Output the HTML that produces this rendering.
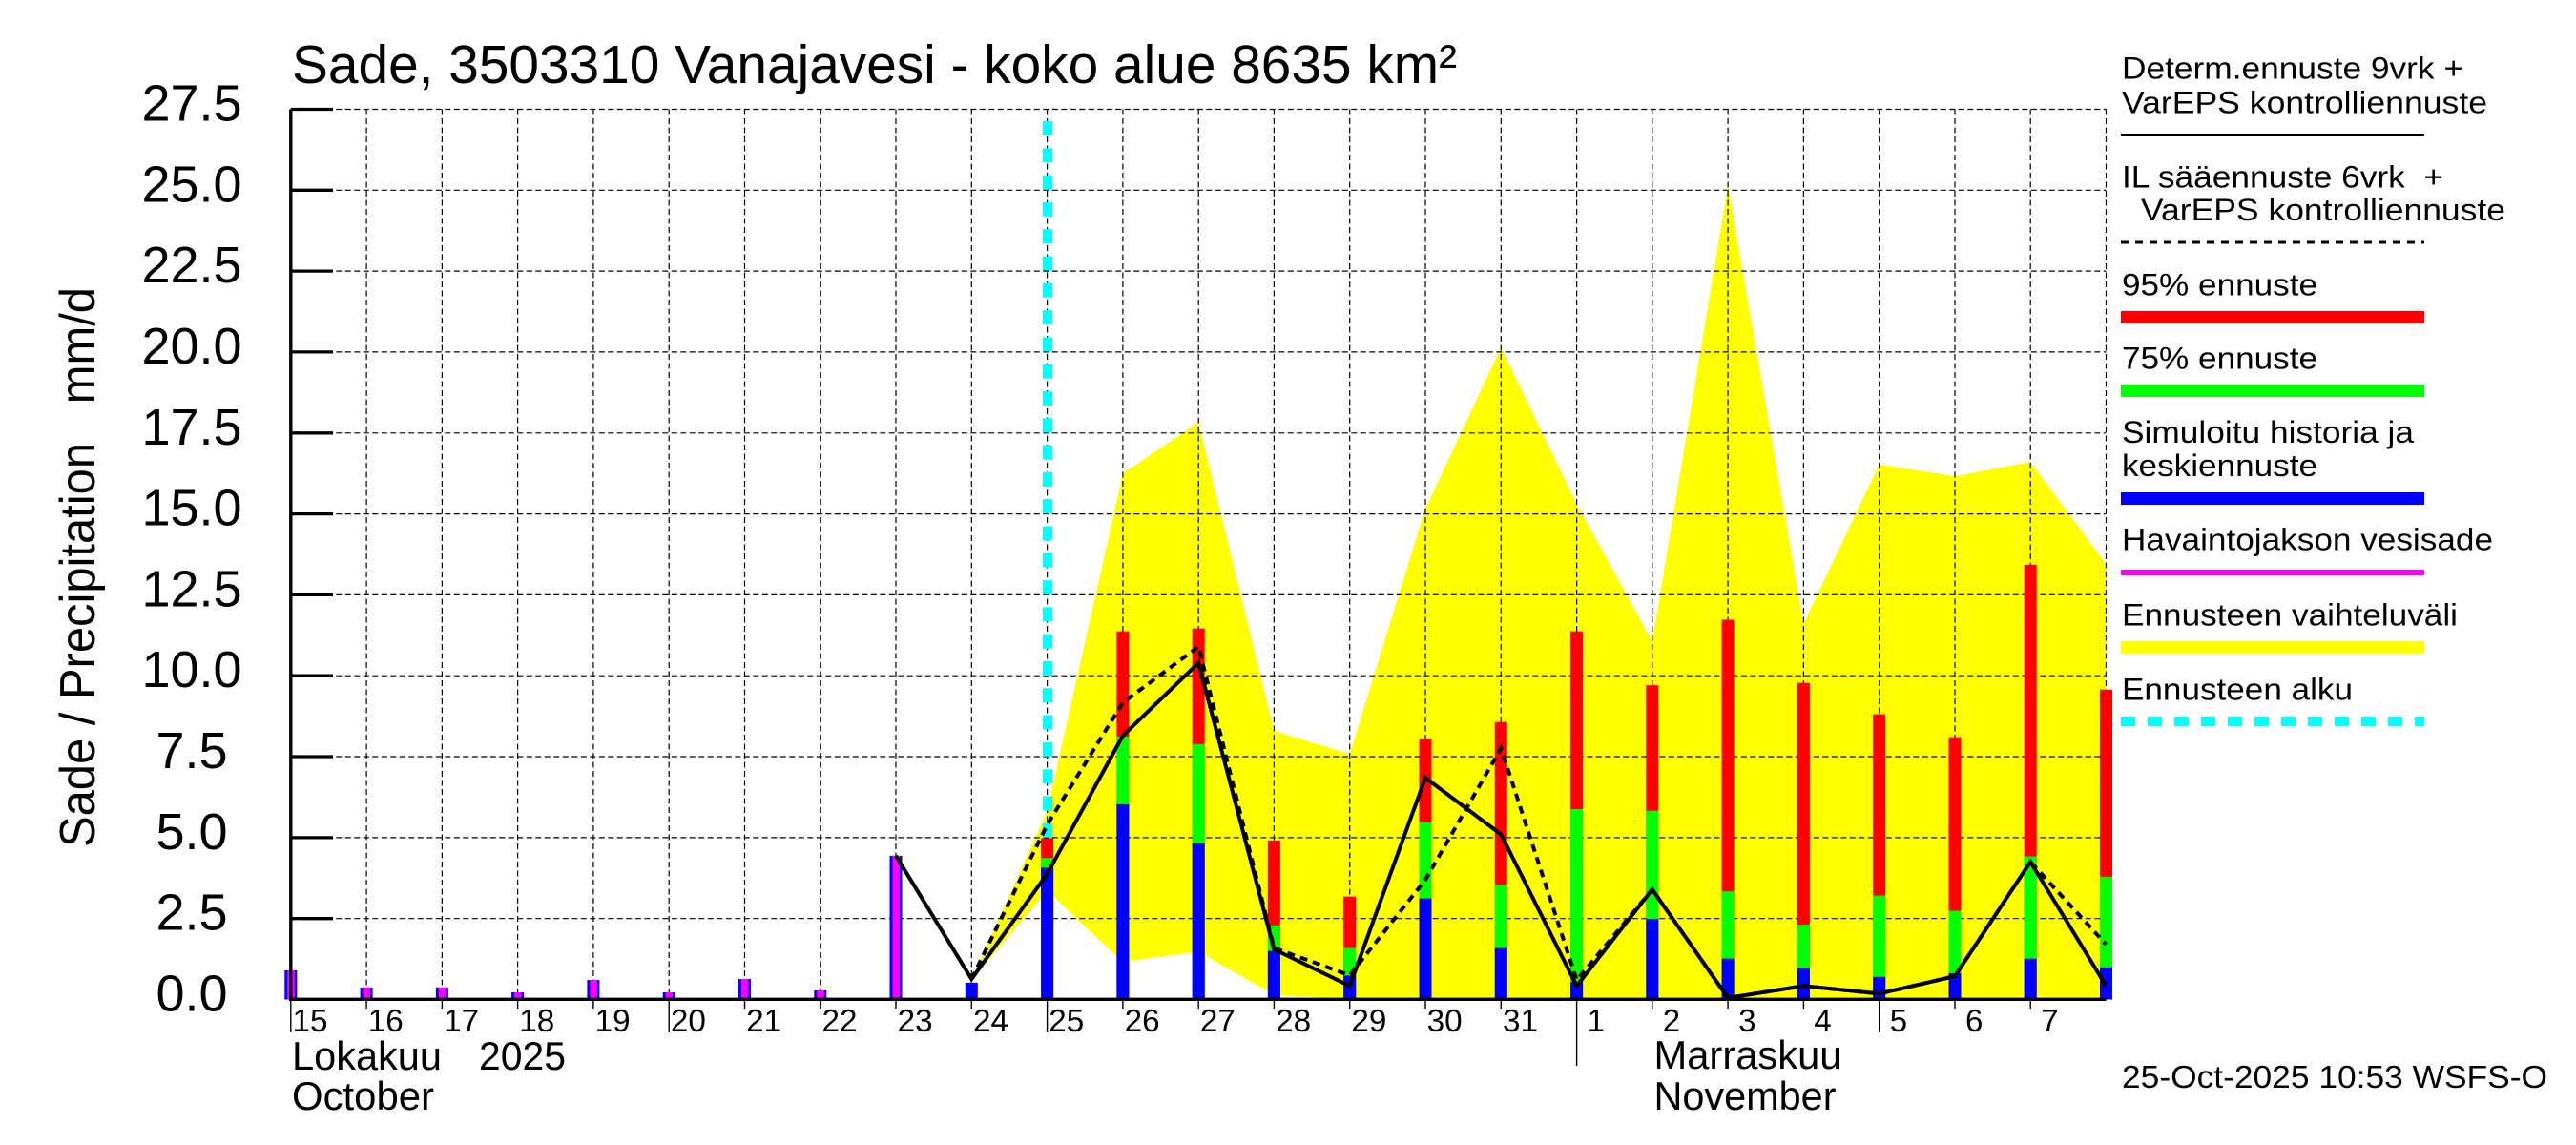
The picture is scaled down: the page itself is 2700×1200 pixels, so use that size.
<!DOCTYPE html>
<html><head><meta charset="utf-8"><style>
html,body{margin:0;padding:0;background:#fff;}
svg{display:block;}
text{font-family:"Liberation Sans",Arial,sans-serif;fill:#000;white-space:pre;}
</style></head><body>
<svg width="2700" height="1200" viewBox="0 0 2700 1200" xmlns="http://www.w3.org/2000/svg">
<rect width="2700" height="1200" fill="#fff"/>

<!-- yellow envelope -->
<polygon fill="#ffff00" points="1018.3,1027.1 1097.6,849.7 1176.9,496.2 1256.2,442.6 1335.4,765.9 1414.7,790.3 1494.0,533.2 1573.3,364.2 1652.6,528.1 1731.8,672.3 1811.1,194.6 1890.4,653.6 1969.7,486.7 2049.0,499.2 2128.2,484.0 2207.5,591.2 2207.5,1047.5 1414.7,1047.5 1335.4,1042.7 1256.2,997.3 1176.9,1008.1 1097.6,933.5"/>

<!-- grid -->
<g stroke="#000" stroke-width="1.2" stroke-dasharray="6 3.5" fill="none">
<path d="M304.8,962.7H2207.5M304.8,877.9H2207.5M304.8,793.0H2207.5M304.8,708.2H2207.5M304.8,623.4H2207.5M304.8,538.6H2207.5M304.8,453.8H2207.5M304.8,368.9H2207.5M304.8,284.1H2207.5M304.8,199.3H2207.5M304.8,114.5H2207.5"/>
<path d="M384.1,114.5V1047.5M463.4,114.5V1047.5M542.6,114.5V1047.5M621.9,114.5V1047.5M701.2,114.5V1047.5M780.5,114.5V1047.5M859.8,114.5V1047.5M939.0,114.5V1047.5M1018.3,114.5V1047.5M1097.6,114.5V1047.5M1176.9,114.5V1047.5M1256.2,114.5V1047.5M1335.4,114.5V1047.5M1414.7,114.5V1047.5M1494.0,114.5V1047.5M1573.3,114.5V1047.5M1652.6,114.5V1047.5M1731.8,114.5V1047.5M1811.1,114.5V1047.5M1890.4,114.5V1047.5M1969.7,114.5V1047.5M2049.0,114.5V1047.5M2128.2,114.5V1047.5M2207.5,114.5V1047.5"/>
</g>

<!-- forecast start (cyan) -->
<line x1="1098" y1="127" x2="1098" y2="1047.5" stroke="#00ffff" stroke-width="10" stroke-dasharray="15 13.3"/>

<!-- observed bars -->
<g>
<rect x="298.3" y="1017.0" width="13" height="30.5" fill="#0000ff"/><rect x="301.3" y="1017.0" width="7.5" height="30.5" fill="#ff00ff"/>
<rect x="377.6" y="1034.9" width="13" height="12.6" fill="#0000ff"/><rect x="380.6" y="1034.9" width="7.5" height="12.6" fill="#ff00ff"/>
<rect x="456.9" y="1034.9" width="13" height="12.6" fill="#0000ff"/><rect x="459.9" y="1034.9" width="7.5" height="12.6" fill="#ff00ff"/>
<rect x="536.1" y="1040.0" width="13" height="7.5" fill="#0000ff"/><rect x="539.1" y="1040.0" width="7.5" height="7.5" fill="#ff00ff"/>
<rect x="615.4" y="1027.1" width="13" height="20.4" fill="#0000ff"/><rect x="618.4" y="1027.1" width="7.5" height="20.4" fill="#ff00ff"/>
<rect x="694.7" y="1040.0" width="13" height="7.5" fill="#0000ff"/><rect x="697.7" y="1040.0" width="7.5" height="7.5" fill="#ff00ff"/>
<rect x="774.0" y="1026.1" width="13" height="21.4" fill="#0000ff"/><rect x="777.0" y="1026.1" width="7.5" height="21.4" fill="#ff00ff"/>
<rect x="853.3" y="1038.0" width="13" height="9.5" fill="#0000ff"/><rect x="856.3" y="1038.0" width="7.5" height="9.5" fill="#ff00ff"/>
<rect x="932.5" y="896.9" width="13" height="150.6" fill="#0000ff"/><rect x="935.5" y="896.9" width="7.5" height="150.6" fill="#ff00ff"/>
<rect x="1011.8" y="1029.9" width="13" height="17.6" fill="#0000ff"/>
</g>

<!-- forecast stacked bars -->
<g>
<rect x="1091.1" y="878.5" width="13" height="169" fill="#ff0000"/><rect x="1091.1" y="899.2" width="13" height="148.3" fill="#00ff00"/><rect x="1091.1" y="909.4" width="13" height="138.1" fill="#0000ff"/>
<rect x="1170.4" y="661.7" width="13" height="385.8" fill="#ff0000"/><rect x="1170.4" y="772.0" width="13" height="275.5" fill="#00ff00"/><rect x="1170.4" y="842.9" width="13" height="204.6" fill="#0000ff"/>
<rect x="1249.7" y="658.7" width="13" height="388.8" fill="#ff0000"/><rect x="1249.7" y="779.8" width="13" height="267.7" fill="#00ff00"/><rect x="1249.7" y="884.0" width="13" height="163.5" fill="#0000ff"/>
<rect x="1328.9" y="880.9" width="13" height="166.6" fill="#ff0000"/><rect x="1328.9" y="969.8" width="13" height="77.7" fill="#00ff00"/><rect x="1328.9" y="996.6" width="13" height="50.9" fill="#0000ff"/>
<rect x="1408.2" y="939.6" width="13" height="107.9" fill="#ff0000"/><rect x="1408.2" y="993.6" width="13" height="53.9" fill="#00ff00"/><rect x="1408.2" y="1022.4" width="13" height="25.1" fill="#0000ff"/>
<rect x="1487.5" y="774.4" width="13" height="273.1" fill="#ff0000"/><rect x="1487.5" y="861.9" width="13" height="185.6" fill="#00ff00"/><rect x="1487.5" y="941.6" width="13" height="105.9" fill="#0000ff"/>
<rect x="1566.8" y="756.7" width="13" height="290.8" fill="#ff0000"/><rect x="1566.8" y="927.4" width="13" height="120.1" fill="#00ff00"/><rect x="1566.8" y="993.6" width="13" height="53.9" fill="#0000ff"/>
<rect x="1646.1" y="661.7" width="13" height="385.8" fill="#ff0000"/><rect x="1646.1" y="848.0" width="13" height="199.5" fill="#00ff00"/><rect x="1646.1" y="1029.2" width="13" height="18.3" fill="#0000ff"/>
<rect x="1725.3" y="718.1" width="13" height="329.4" fill="#ff0000"/><rect x="1725.3" y="849.7" width="13" height="197.8" fill="#00ff00"/><rect x="1725.3" y="963.0" width="13" height="84.5" fill="#0000ff"/>
<rect x="1804.6" y="649.5" width="13" height="398" fill="#ff0000"/><rect x="1804.6" y="934.2" width="13" height="113.3" fill="#00ff00"/><rect x="1804.6" y="1004.7" width="13" height="42.8" fill="#0000ff"/>
<rect x="1883.9" y="715.7" width="13" height="331.8" fill="#ff0000"/><rect x="1883.9" y="969.1" width="13" height="78.4" fill="#00ff00"/><rect x="1883.9" y="1014.6" width="13" height="32.9" fill="#0000ff"/>
<rect x="1963.2" y="748.6" width="13" height="298.9" fill="#ff0000"/><rect x="1963.2" y="938.6" width="13" height="108.9" fill="#00ff00"/><rect x="1963.2" y="1023.8" width="13" height="23.7" fill="#0000ff"/>
<rect x="2042.5" y="772.7" width="13" height="274.8" fill="#ff0000"/><rect x="2042.5" y="954.5" width="13" height="93" fill="#00ff00"/><rect x="2042.5" y="1020.0" width="13" height="27.5" fill="#0000ff"/>
<rect x="2121.7" y="591.9" width="13" height="455.6" fill="#ff0000"/><rect x="2121.7" y="897.5" width="13" height="150" fill="#00ff00"/><rect x="2121.7" y="1004.7" width="13" height="42.8" fill="#0000ff"/>
<rect x="2201" y="722.8" width="13" height="324.7" fill="#ff0000"/><rect x="2201" y="918.9" width="13" height="128.6" fill="#00ff00"/><rect x="2201" y="1013.9" width="13" height="33.6" fill="#0000ff"/>
</g>

<!-- lines -->
<polyline fill="none" stroke="#000" stroke-width="4" stroke-dasharray="8 6" points="1018.3,1026.1 1097.6,864.3 1176.9,736.4 1256.2,677.7 1335.4,993.6 1414.7,1022.1 1494.0,922.0 1573.3,784.2 1652.6,1027.1 1731.8,932.2 1811.1,1045.8 1890.4,1033.3 1969.7,1041.4 2049.0,1023.1 2128.2,903.3 2207.5,989.8"/>
<polyline fill="none" stroke="#000" stroke-width="4" points="939.0,896.9 1018.3,1026.1 1097.6,915.9 1176.9,771.0 1256.2,694.7 1335.4,994.9 1414.7,1033.3 1494.0,815.1 1573.3,874.5 1652.6,1033.3 1731.8,932.2 1811.1,1045.8 1890.4,1033.3 1969.7,1041.4 2049.0,1023.1 2128.2,903.3 2207.5,1033.3"/>

<!-- axes -->
<line x1="304.8" y1="114.5" x2="304.8" y2="1049" stroke="#000" stroke-width="3.4"/>
<line x1="303" y1="1047.3" x2="2207.5" y2="1047.3" stroke="#000" stroke-width="3.4"/>
<path stroke="#000" stroke-width="3.3" d="M304.8,962.7H349M304.8,877.9H349M304.8,793.0H349M304.8,708.2H349M304.8,623.4H349M304.8,538.6H349M304.8,453.8H349M304.8,368.9H349M304.8,284.1H349M304.8,199.3H349M304.8,114.5H349"/>

<!-- x ticks -->
<path stroke="#000" stroke-width="1.4" d="M304.8,1049V1082M384.1,1049V1057M463.4,1049V1057M542.6,1049V1057M621.9,1049V1057M701.2,1049V1082M780.5,1049V1057M859.8,1049V1057M939.0,1049V1057M1018.3,1049V1057M1097.6,1049V1082M1176.9,1049V1057M1256.2,1049V1057M1335.4,1049V1057M1414.7,1049V1057M1494.0,1049V1057M1573.3,1049V1057M1652.6,1049V1117M1731.8,1049V1057M1811.1,1049V1057M1890.4,1049V1057M1969.7,1049V1082M2049.0,1049V1057M2128.2,1049V1057"/>

<!-- y tick labels -->
<g font-size="54" text-anchor="middle">
<text x="201" y="1059.5">0.0</text>
<text x="201" y="974.7">2.5</text>
<text x="201" y="889.9">5.0</text>
<text x="201" y="805">7.5</text>
<text x="201" y="720.2">10.0</text>
<text x="201" y="635.4">12.5</text>
<text x="201" y="550.6">15.0</text>
<text x="201" y="465.8">17.5</text>
<text x="201" y="380.9">20.0</text>
<text x="201" y="296.1">22.5</text>
<text x="201" y="211.3">25.0</text>
<text x="201" y="126.5">27.5</text>
</g>

<!-- y axis label -->
<text transform="translate(99,594.5) rotate(-90)" font-size="52" text-anchor="middle" textLength="587" lengthAdjust="spacingAndGlyphs">Sade / Precipitation   mm/d</text>

<!-- title -->
<text x="306" y="87" font-size="57" textLength="1221" lengthAdjust="spacingAndGlyphs">Sade, 3503310 Vanajavesi - koko alue 8635 km²</text>

<!-- day labels -->
<g font-size="33">
<text x="306.5" y="1081" textLength="37" lengthAdjust="spacingAndGlyphs">15</text>
<text x="385.8" y="1081" textLength="37" lengthAdjust="spacingAndGlyphs">16</text>
<text x="465.1" y="1081" textLength="37" lengthAdjust="spacingAndGlyphs">17</text>
<text x="544.3" y="1081" textLength="37" lengthAdjust="spacingAndGlyphs">18</text>
<text x="623.6" y="1081" textLength="37" lengthAdjust="spacingAndGlyphs">19</text>
<text x="702.9" y="1081" textLength="37" lengthAdjust="spacingAndGlyphs">20</text>
<text x="782.2" y="1081" textLength="37" lengthAdjust="spacingAndGlyphs">21</text>
<text x="861.5" y="1081" textLength="37" lengthAdjust="spacingAndGlyphs">22</text>
<text x="940.7" y="1081" textLength="37" lengthAdjust="spacingAndGlyphs">23</text>
<text x="1020.0" y="1081" textLength="37" lengthAdjust="spacingAndGlyphs">24</text>
<text x="1099.3" y="1081" textLength="37" lengthAdjust="spacingAndGlyphs">25</text>
<text x="1178.6" y="1081" textLength="37" lengthAdjust="spacingAndGlyphs">26</text>
<text x="1257.9" y="1081" textLength="37" lengthAdjust="spacingAndGlyphs">27</text>
<text x="1337.1" y="1081" textLength="37" lengthAdjust="spacingAndGlyphs">28</text>
<text x="1416.4" y="1081" textLength="37" lengthAdjust="spacingAndGlyphs">29</text>
<text x="1495.7" y="1081" textLength="37" lengthAdjust="spacingAndGlyphs">30</text>
<text x="1575.0" y="1081" textLength="37" lengthAdjust="spacingAndGlyphs">31</text>
<text x="1663.6" y="1081">1</text>
<text x="1742.8" y="1081">2</text>
<text x="1822.1" y="1081">3</text>
<text x="1901.4" y="1081">4</text>
<text x="1980.7" y="1081">5</text>
<text x="2060.0" y="1081">6</text>
<text x="2139.2" y="1081">7</text>
</g>

<!-- month labels -->
<g font-size="42">
<text x="306" y="1121" textLength="157" lengthAdjust="spacingAndGlyphs">Lokakuu</text>
<text x="502" y="1121" textLength="91" lengthAdjust="spacingAndGlyphs">2025</text>
<text x="306" y="1163" textLength="149" lengthAdjust="spacingAndGlyphs">October</text>
<text x="1733.5" y="1120" textLength="197" lengthAdjust="spacingAndGlyphs">Marraskuu</text>
<text x="1733.5" y="1163" textLength="191" lengthAdjust="spacingAndGlyphs">November</text>
</g>

<!-- timestamp -->
<text x="2224" y="1140" font-size="33" textLength="446" lengthAdjust="spacingAndGlyphs">25-Oct-2025 10:53 WSFS-O</text>

<!-- legend -->
<g font-size="32">
<text x="2224" y="82.7" textLength="358" lengthAdjust="spacingAndGlyphs">Determ.ennuste 9vrk +</text>
<text x="2224" y="118.3" textLength="383" lengthAdjust="spacingAndGlyphs">VarEPS kontrolliennuste</text>
<text x="2224" y="196.7" textLength="337" lengthAdjust="spacingAndGlyphs">IL sääennuste 6vrk  +</text>
<text x="2244" y="231" textLength="382" lengthAdjust="spacingAndGlyphs">VarEPS kontrolliennuste</text>
<text x="2224" y="309.3" textLength="205" lengthAdjust="spacingAndGlyphs">95% ennuste</text>
<text x="2224" y="386.7" textLength="205" lengthAdjust="spacingAndGlyphs">75% ennuste</text>
<text x="2224" y="464" textLength="306" lengthAdjust="spacingAndGlyphs">Simuloitu historia ja</text>
<text x="2224" y="499" textLength="205" lengthAdjust="spacingAndGlyphs">keskiennuste</text>
<text x="2224" y="576.7" textLength="389" lengthAdjust="spacingAndGlyphs">Havaintojakson vesisade</text>
<text x="2224" y="655.3" textLength="352" lengthAdjust="spacingAndGlyphs">Ennusteen vaihteluväli</text>
<text x="2224" y="733.3" textLength="242" lengthAdjust="spacingAndGlyphs">Ennusteen alku</text>
</g>
<line x1="2223" y1="141.5" x2="2541" y2="141.5" stroke="#000" stroke-width="3"/>
<line x1="2223" y1="254" x2="2541" y2="254" stroke="#000" stroke-width="3" stroke-dasharray="8 7"/>
<rect x="2223" y="326" width="318" height="13" fill="#ff0000"/>
<rect x="2223" y="403" width="318" height="13" fill="#00ff00"/>
<rect x="2223" y="516" width="318" height="13" fill="#0000ff"/>
<rect x="2223" y="597" width="318" height="6" fill="#ff00ff"/>
<rect x="2223" y="672" width="318" height="13" fill="#ffff00"/>
<line x1="2223" y1="756" x2="2541" y2="756" stroke="#00ffff" stroke-width="10" stroke-dasharray="15 13"/>
</svg>
</body></html>
